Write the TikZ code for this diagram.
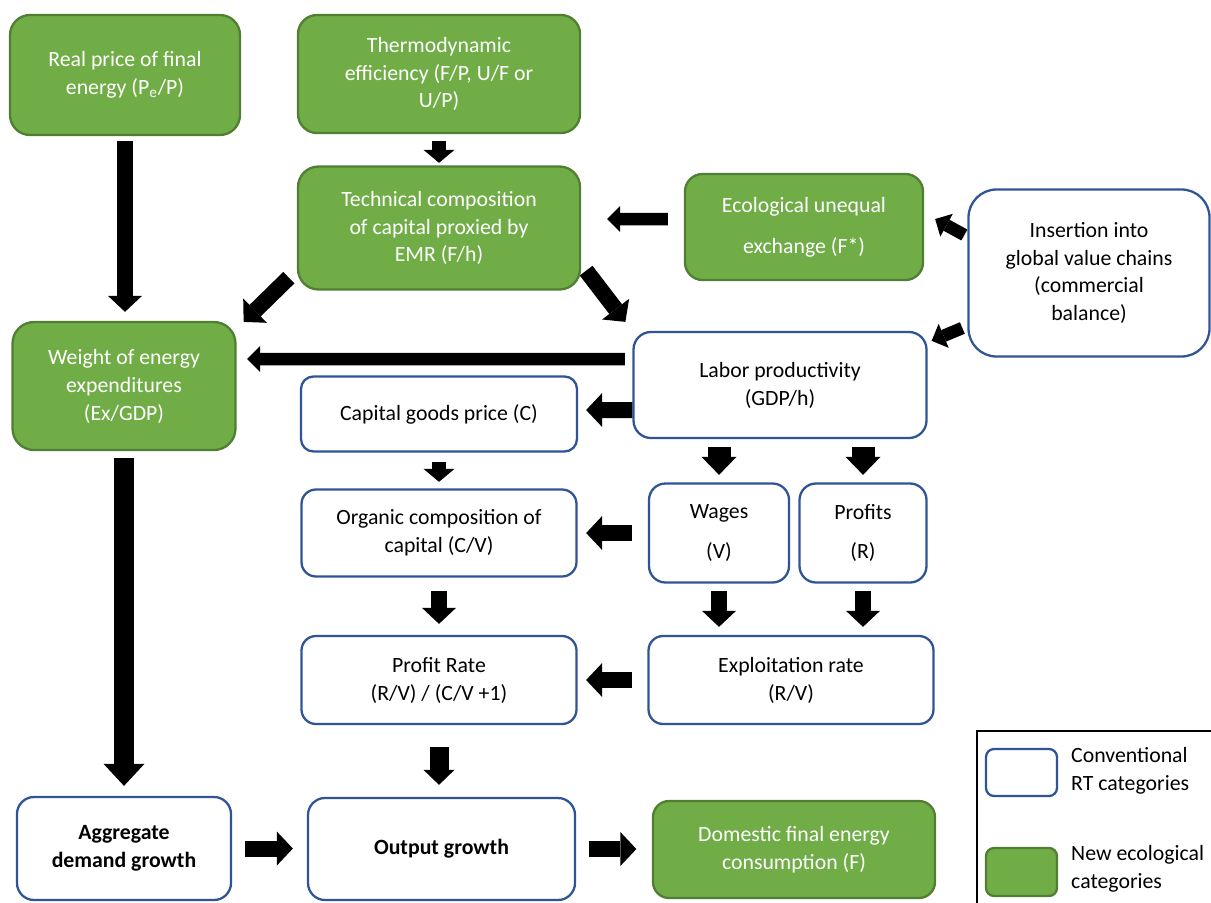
\documentclass[tikz,border=0pt]{standalone}
\usepackage{fontspec}
\setmainfont{Carlito}
\usetikzlibrary{arrows.meta}
\definecolor{ecofill}{HTML}{70AD47}
\definecolor{ecoline}{HTML}{507E32}
\definecolor{convline}{HTML}{2F5597}
\tikzset{
  every node/.style={font=\fontsize{12.4}{15.9}\selectfont, align=center},
  ecobox/.style={draw=ecoline, fill=ecofill, text=white, line width=1.3pt,
    rounded corners=0.38cm},
  convbox/.style={draw=convline, fill=white, line width=1.3pt,
    rounded corners=0.38cm},
  bigarr/.style={line width=0.32cm, -{Triangle[width=0.68cm,length=0.32cm,line width=0pt]}},
  thinarr/.style={line width=0.25cm, -{Triangle[width=0.52cm,length=0.26cm,line width=0pt]}},
  widearr/.style={line width=0.40cm, -{Triangle[width=0.82cm,length=0.44cm,line width=0pt]}},
  stubarr/.style={line width=0.46cm, -{Triangle[width=0.70cm,length=0.36cm,line width=0pt]}},
  smallarr/.style={line width=0.28cm, -{Triangle[width=0.62cm,length=0.26cm,line width=0pt]}},
  downarr/.style={line width=0.38cm, -{Triangle[width=0.62cm,length=0.30cm,line width=0pt]}}
}
\begin{document}
\begin{tikzpicture}
  \useasboundingbox (0,0) rectangle (24.22,-18.04);
  % top rows
  \node [ecobox, minimum width=4.60cm, minimum height=2.40cm, rounded corners=0.40cm]
    (price) at (2.50,-1.50) {Real price of final\\energy (P\textsubscript{e}/P)};
  \node [ecobox, minimum width=5.64cm, minimum height=2.36cm]
    (thermo) at (8.78,-1.48) {Thermodynamic\\efficiency (F/P, U/F or\\U/P)};
  \node [ecobox, minimum width=5.64cm, minimum height=2.46cm, rounded corners=0.41cm]
    (tech) at (8.78,-4.56) {Technical composition\\of capital proxied by\\EMR (F/h)};
  \node [ecobox, minimum width=4.76cm, minimum height=2.12cm, rounded corners=0.35cm]
    (ecol) at (16.08,-4.54) {Ecological unequal\\[7.4pt]exchange (F*)};
  \node [convbox, minimum width=4.82cm, minimum height=3.34cm, rounded corners=0.56cm]
    (insert) at (21.78,-5.46) {Insertion into\\global value chains\\(commercial\\balance)};
  \node [ecobox, minimum width=4.46cm, minimum height=2.56cm, rounded corners=0.43cm]
    (weight) at (2.48,-7.72) {Weight of energy\\expenditures\\(Ex/GDP)};
  \node [convbox, minimum width=5.86cm, minimum height=2.12cm, rounded corners=0.35cm]
    (labor) at (15.60,-7.70) {Labor productivity\\(GDP/h)};
  % middle block
  \node [convbox, minimum width=5.52cm, minimum height=1.50cm, rounded corners=0.25cm]
    (capprice) at (8.78,-8.28) {Capital goods price (C)};
  \node [convbox, minimum width=5.50cm, minimum height=1.74cm, rounded corners=0.29cm]
    (organic) at (8.78,-10.66) {Organic composition of\\capital (C/V)};
  \node [convbox, minimum width=2.80cm, minimum height=1.98cm, rounded corners=0.33cm]
    (wages) at (14.38,-10.66) {Wages\\[6.8pt](V)};
  \node [convbox, minimum width=2.54cm, minimum height=1.98cm, rounded corners=0.33cm]
    (profits) at (17.26,-10.66) {Profits\\[6.8pt](R)};
  \node [convbox, minimum width=5.50cm, minimum height=1.76cm, rounded corners=0.29cm]
    (rate) at (8.78,-13.60) {Profit Rate\\(R/V) / (C/V +1)};
  \node [convbox, minimum width=5.70cm, minimum height=1.76cm, rounded corners=0.29cm]
    (exploit) at (15.82,-13.60) {Exploitation rate\\(R/V)};
  % bottom row
  \node [convbox, minimum width=4.28cm, minimum height=2.06cm, rounded corners=0.34cm]
    (demand) at (2.48,-16.97) {\bfseries Aggregate\\\bfseries demand growth};
  \node [convbox, minimum width=5.34cm, minimum height=2.04cm, rounded corners=0.34cm]
    (output) at (8.83,-16.98) {\bfseries Output growth};
  \node [ecobox, minimum width=5.64cm, minimum height=1.94cm, rounded corners=0.32cm]
    (domestic) at (15.88,-16.99) {Domestic final energy\\consumption (F)};
  % legend
  \draw [line width=0.8pt] (19.54,-18.3) |- (24.5,-14.62);
  \node [convbox, minimum width=1.42cm, minimum height=0.94cm, rounded corners=0.16cm]
    (legconv) at (20.43,-15.45) {};
  \node [anchor=west, align=left] (legconvtext) at (21.30,-15.42)
    {Conventional\\RT categories};
  \node [ecobox, minimum width=1.42cm, minimum height=0.96cm, rounded corners=0.16cm]
    (legeco) at (20.43,-17.44) {};
  \node [anchor=west, align=left] (legecotext) at (21.30,-17.38)
    {New ecological\\categories};
  % arrows
  \draw [bigarr, shorten <=0.10cm, shorten >=0.18cm] (price.south) -- (price.south |- weight.north);
  \draw [smallarr, shorten <=0.14cm, shorten >=0.05cm] (thermo.south) -- (tech.north);
  \draw [thinarr, shorten <=0.32cm, shorten >=0.52cm] ([yshift=0.16cm]ecol.west) -- ([yshift=0.18cm]tech.east);
  \draw [thinarr] ([xshift=-0.06cm,yshift=0.76cm]insert.west) -- ([xshift=0.22cm,yshift=0.16cm]ecol.east);
  \draw [thinarr] ([xshift=-0.10cm,yshift=-1.10cm]insert.west) -- ([xshift=0.08cm,yshift=-0.20cm]labor.north east);
  \draw [bigarr] ([xshift=-0.16cm,yshift=0.26cm]tech.south west) -- ([xshift=0.14cm,yshift=-0.02cm]weight.north east);
  \draw [bigarr] ([xshift=0.10cm,yshift=0.40cm]tech.south east) -- ([xshift=-0.14cm,yshift=0.18cm]labor.north west);
  \draw [thinarr, shorten <=0.15cm, shorten >=0.21cm] ([yshift=0.52cm]labor.west) -- ([yshift=0.54cm]weight.east);
  \draw [bigarr, shorten >=0.16cm] ([yshift=-0.50cm]labor.west) -- ([yshift=0.08cm]capprice.east);
  \draw [smallarr, shorten <=0.19cm, shorten >=0.13cm] (capprice.south) -- (organic.north);
  \draw [stubarr, shorten <=0.16cm, shorten >=0.15cm] (wages.north |- labor.south) -- (wages.north);
  \draw [stubarr, shorten <=0.16cm, shorten >=0.15cm] (profits.north |- labor.south) -- (profits.north);
  \draw [bigarr, shorten <=0.32cm, shorten >=0.17cm] (wages.west) -- (organic.east);
  \draw [bigarr, shorten <=0.27cm, shorten >=0.22cm] (organic.south) -- (rate.north);
  \draw [bigarr, shorten <=0.15cm, shorten >=0.16cm] (wages.south) -- (wages.south |- exploit.north);
  \draw [bigarr, shorten <=0.15cm, shorten >=0.16cm] (profits.south) -- (profits.south |- exploit.north);
  \draw [bigarr, shorten <=0.31cm, shorten >=0.17cm] (exploit.west) -- (rate.east);
  \draw [downarr, shorten <=0.44cm, shorten >=0.24cm] (rate.south) -- (rate.south |- output.north);
  \draw [widearr, shorten <=0.14cm, shorten >=0.20cm] (weight.south) -- (weight.south |- demand.north);
  \draw [bigarr, shorten <=0.26cm, shorten >=0.28cm] (demand.east) -- (demand.east -| output.west);
  \draw [bigarr, shorten <=0.25cm, shorten >=0.31cm] (output.east) -- (output.east -| domestic.west);
\end{tikzpicture}
\end{document}
